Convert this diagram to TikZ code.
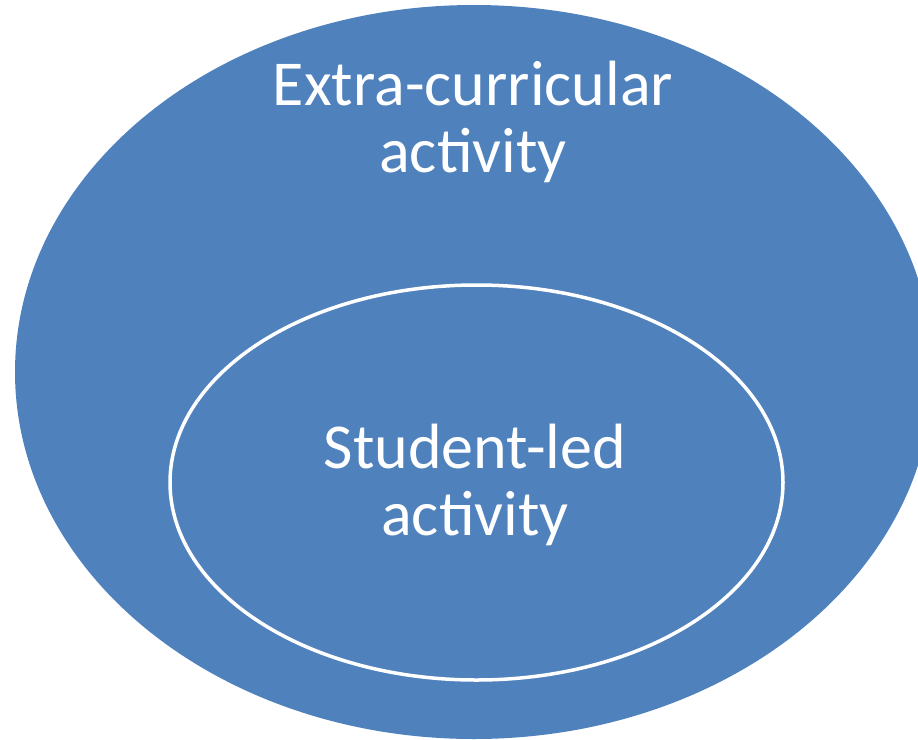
\documentclass[tikz,border=0pt]{standalone}
\usepackage{fontspec}
\setmainfont{Carlito}
\definecolor{officeblue}{HTML}{4F81BD}
\begin{document}
\begin{tikzpicture}[x=1pt,y=-1pt,
  lbl/.style={text=white,font=\fontsize{64}{67}\selectfont,align=center,inner sep=0pt}]
\useasboundingbox (0,0) rectangle (918,739);
\clip (0,0) rectangle (918,739);
\fill[officeblue] (474,372) ellipse [x radius=459, y radius=367];
\draw[white,line width=3.5] (476.5,482.5) ellipse [x radius=306.5, y radius=197.5];
\node[lbl,anchor=base] (outer) at (473,172) {Extra-curricular\\activity};
\node[lbl,anchor=base] (inner) at (475,535) {Student-led\\activity};
\end{tikzpicture}
\end{document}
